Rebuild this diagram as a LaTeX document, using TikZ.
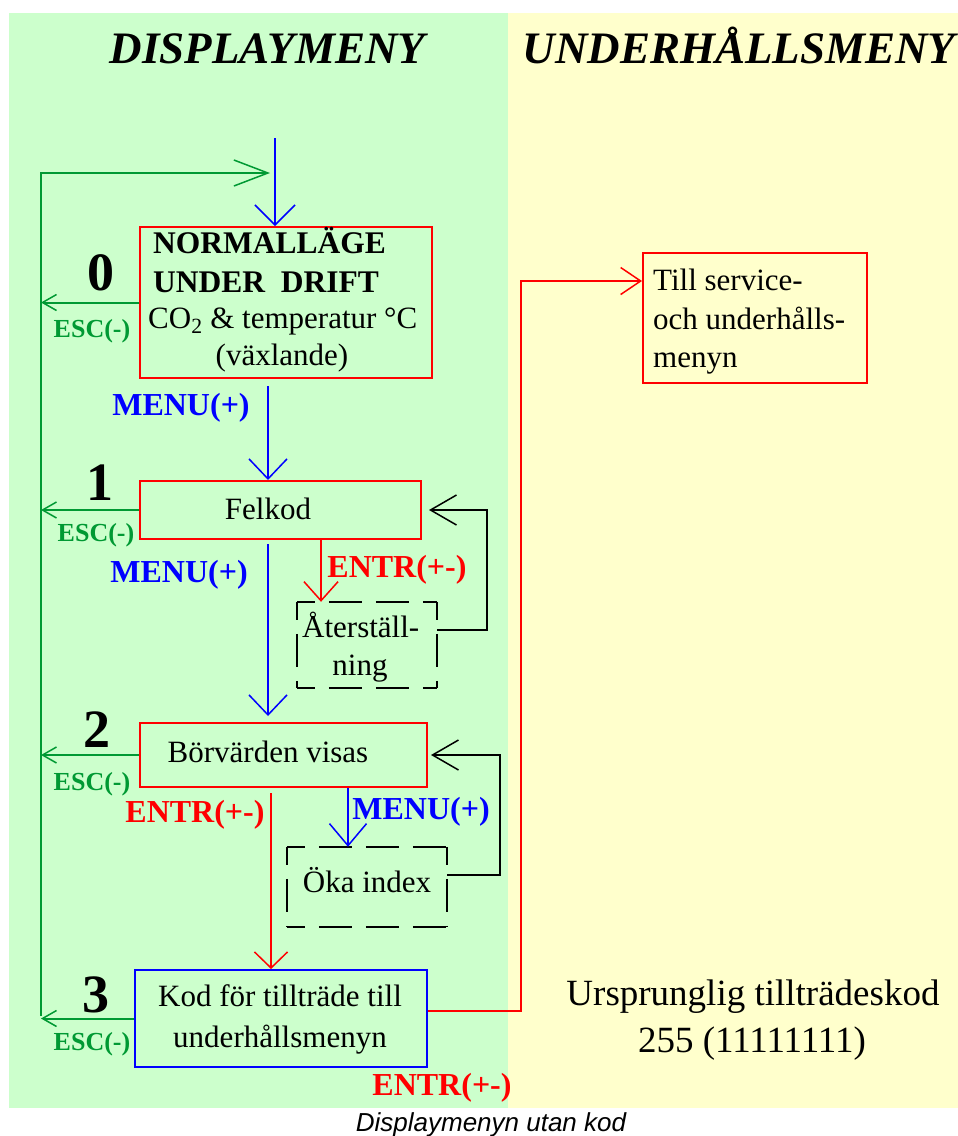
\documentclass[tikz,border=0pt]{standalone}
\usepackage{fontspec}
\setmainfont{Liberation Serif}
\newfontfamily\captionfont{Liberation Sans}
\usetikzlibrary{arrows.meta}

\definecolor{panelgreen}{RGB}{204,255,204}
\definecolor{panelyellow}{RGB}{255,255,204}
\definecolor{escgreen}{RGB}{0,153,51}
\definecolor{keyred}{RGB}{255,0,0}
\definecolor{keyblue}{RGB}{0,0,255}

% dashed outline drawn side by side, each side starting with a dash at its corner
\newcommand\dashedoutline[1]{%
  \draw[dashside] (#1.north west) -- (#1.north east);
  \draw[dashside] (#1.south west) -- (#1.south east);
  \draw[dashside] (#1.north west) -- (#1.south west);
  \draw[dashside] (#1.north east) -- (#1.south east);
}

\begin{document}
\begin{tikzpicture}[x=1pt,y=-1pt,
  frame/.style={draw, line width=2pt, inner sep=0pt},
  redbox/.style={frame, draw=keyred},
  bluebox/.style={frame, draw=keyblue},
  plainbox/.style={inner sep=0pt},
  dashside/.style={line width=2pt, black, dash pattern=on 33pt off 14pt, dash phase=15pt},
  wire/.style={line width=2pt},
  tipV/.style n args={2}{-{Straight Barb[length=#1pt,width=#2pt,line width=1.5pt]}},
  txt/.style={inner sep=0pt, font=\fontsize{31}{38}\selectfont},
  boldtxt/.style={inner sep=0pt, font=\fontsize{31.5}{38}\selectfont\bfseries},
  num/.style={inner sep=0pt, font=\fontsize{54}{54}\selectfont\bfseries},
  esclab/.style={inner sep=0pt, text=escgreen, font=\fontsize{26}{26}\selectfont\bfseries},
  keylab/.style={inner sep=0pt, font=\fontsize{32}{32}\selectfont\bfseries},
  heading/.style={inner sep=0pt, font=\fontsize{45}{45}\selectfont\bfseries\itshape},
  note/.style={inner sep=0pt, font=\fontsize{37}{44}\selectfont},
  capt/.style={inner sep=0pt, font=\fontsize{26}{26}\selectfont\captionfont\itshape}
]
% page and the two menu panels
\fill[white] (0,0) rectangle (958,1136);
\useasboundingbox (0,0) rectangle (958,1136);
\fill[panelgreen] (9,13) rectangle (508,1108);
\fill[panelyellow] (508,13) rectangle (958,1108);

% headings
\node[heading, anchor=base] (hdisp) at (267.5,63) {DISPLAYMENY};
\node[heading, anchor=base] (hmaint) at (739,63) {UNDERHÅLLSMENY};

% menu boxes
\node[redbox, minimum width=292pt, minimum height=151pt] (box0) at (286,302.5) {};
\node[redbox, minimum width=281pt, minimum height=58pt] (box1) at (280.5,510) {};
\node[redbox, minimum width=287pt, minimum height=64pt] (box2) at (283.5,755) {};
\node[bluebox, minimum width=292pt, minimum height=97pt] (box3) at (281,1018.5) {};
\node[plainbox, minimum width=140pt, minimum height=86pt] (reset) at (367,645) {};
\node[plainbox, minimum width=160pt, minimum height=80pt] (incr) at (367,887) {};
\node[redbox, minimum width=224pt, minimum height=130pt] (service) at (755,318) {};
\dashedoutline{reset}
\dashedoutline{incr}

% box texts
\node[boldtxt, anchor=base west] (t0a) at (153,253) {NORMALLÄGE};
\node[boldtxt, anchor=base west] (t0b) at (153,292) {UNDER\ \ DRIFT};
\node[txt, anchor=base west] (t0c) at (148,328) {CO\textsubscript{2} \& temperatur °C};
\node[txt, anchor=base] (t0d) at (282,365) {(växlande)};
\node[txt, anchor=base] (t1) at (268,519) {Felkod};
\node[txt, anchor=base] (t2) at (268,762) {Börvärden visas};
\node[txt, anchor=base west] (tr1) at (302,637) {Återställ-};
\node[txt, anchor=base] (tr2) at (360,675) {ning};
\node[txt, anchor=base] (ti) at (367,892) {Öka index};
\node[txt, anchor=base] (t3a) at (280,1006) {Kod för tillträde till};
\node[txt, anchor=base] (t3b) at (280,1047) {underhållsmenyn};
\node[txt, anchor=base west] (ts1) at (653,290) {Till service-};
\node[txt, anchor=base west] (ts2) at (653,329) {och underhålls-};
\node[txt, anchor=base west] (ts3) at (653,367) {menyn};
\node[note, anchor=base] (code1) at (753,1005) {Ursprunglig tillträdeskod};
\node[note, anchor=base] (code2) at (752,1052) {255 (11111111)};

% step numbers
\node[num, anchor=base] (n0) at (101,290) {0};
\node[num, anchor=base] (n1) at (100,500) {1};
\node[num, anchor=base] (n2) at (97,747) {2};
\node[num, anchor=base] (n3) at (96,1012) {3};

% key labels
\node[esclab, anchor=base] (e0) at (92,337) {ESC(-)};
\node[esclab, anchor=base] (e1) at (96,541) {ESC(-)};
\node[esclab, anchor=base] (e2) at (92,790) {ESC(-)};
\node[esclab, anchor=base] (e3) at (92,1050) {ESC(-)};
\node[keylab, text=keyblue, anchor=base] (m0) at (181,415) {MENU(+)};
\node[keylab, text=keyblue, anchor=base] (m1) at (179,582) {MENU(+)};
\node[keylab, text=keyblue, anchor=base] (m2) at (421,819) {MENU(+)};
\node[keylab, text=keyred, anchor=base] (r1) at (397,577) {ENTR(+-)};
\node[keylab, text=keyred, anchor=base] (r2) at (195,822) {ENTR(+-)};
\node[keylab, text=keyred, anchor=base] (r3) at (442,1095) {ENTR(+-)};

% caption
\node[capt, anchor=base] (cap) at (491,1131) {Displaymenyn utan kod};

% routing points
\coordinate (entry) at (275,138);
\coordinate (busTop) at (41,173);
\coordinate (busBot) at (41,1016);
\coordinate (loopEnd) at (270,173);
\coordinate (colA) at (268,0);
\coordinate (colB) at (321,0);
\coordinate (colC) at (271,0);
\coordinate (colD) at (348,0);
\coordinate (back1) at (487,630);
\coordinate (back2) at (500,875);
\coordinate (svcLow) at (521,1011);
\coordinate (svcHigh) at (521,281);

% ESC return bus
\draw[wire, escgreen, tipV={34}{26}] (busBot) -- (busTop) -- (loopEnd);
\foreach \b in {box0,box1,box2,box3}
  \draw[wire, escgreen, tipV={14}{16}] (\b.west) -- (\b.west -| busTop);

% MENU(+) steps
\draw[wire, keyblue, tipV={20}{40}] (entry) -- (entry |- box0.north);
\draw[wire, keyblue, tipV={20}{38}, shorten <=7pt] (box0.south -| colA) -- (box1.north -| colA);
\draw[wire, keyblue, tipV={20}{38}, shorten <=4pt, shorten >=6pt] (box1.south -| colA) -- (box2.north -| colA);
\draw[wire, keyblue, tipV={22}{37}] (box2.south -| colD) -- (incr.north -| colD);

% ENTR(+-) steps
\draw[wire, keyred, tipV={19}{34}] (box1.south -| colB) -- (reset.north -| colB);
\draw[wire, keyred, tipV={16}{33}, shorten <=5pt] (box2.south -| colC) -- (box3.north -| colC);
\draw[wire, keyred, tipV={20}{27}] (box3.east |- svcLow) -- (svcLow) -- (svcHigh) -- (service.west |- svcHigh);

% returns from the sub steps
\draw[wire, black, tipV={26}{30}, shorten >=7pt] (reset.east |- back1) -- (back1) -- (back1 |- box1.east) -- (box1.east);
\draw[wire, black, tipV={26}{30}, shorten >=3pt] (incr.east |- back2) -- (back2) -- (back2 |- box2.east) -- (box2.east);
\end{tikzpicture}
\end{document}
